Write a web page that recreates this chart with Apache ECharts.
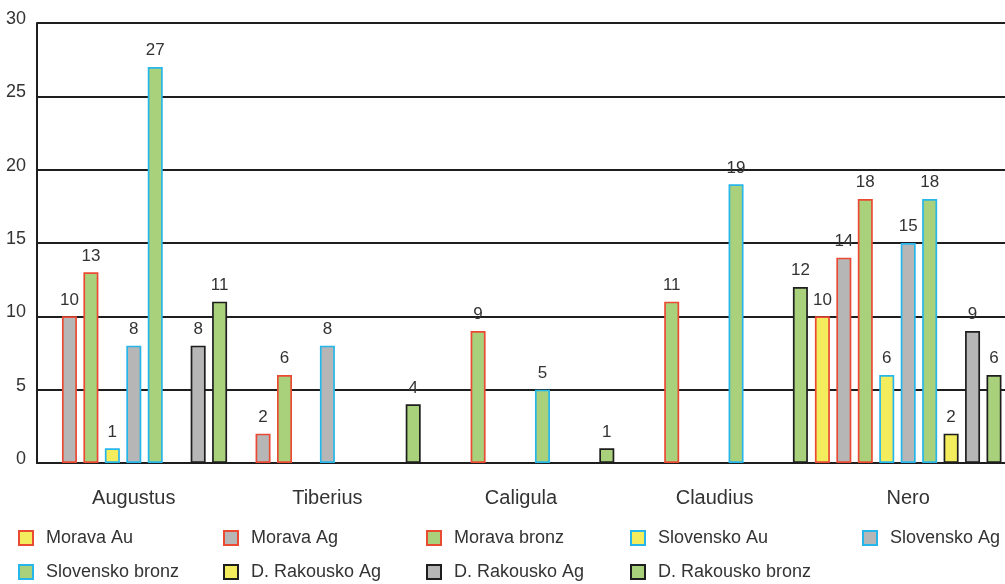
<!DOCTYPE html>
<html>
<head>
<meta charset="utf-8">
<script src="https://cdn.jsdelivr.net/npm/echarts@6/dist/echarts.min.js"></script>
<style>
html,body{margin:0;padding:0;background:#fff;}
#chart{width:1005px;height:584px;}
</style>
</head>
<body>
<div id="chart"></div>
<script>
var categories = ['Augustus', 'Tiberius', 'Caligula', 'Claudius', 'Nero'];
var seriesNames = ['Morava Au', 'Morava Ag', 'Morava bronz', 'Slovensko Au', 'Slovensko Ag', 'Slovensko bronz', 'D. Rakousko Au', 'D. Rakousko Ag', 'D. Rakousko bronz'];
var legendLabels = ['Morava Au', 'Morava Ag', 'Morava bronz', 'Slovensko Au', 'Slovensko Ag', 'Slovensko bronz', 'D. Rakousko Ag', 'D. Rakousko Ag', 'D. Rakousko bronz'];
var moravaAu = [0, 0, 0, 0, 10];
var moravaAg = [10, 2, 0, 0, 14];
var moravaBronz = [13, 6, 9, 11, 18];
var slovenskoAu = [1, 0, 0, 0, 6];
var slovenskoAg = [8, 8, 0, 0, 15];
var slovenskoBronz = [27, 0, 5, 19, 18];
var rakouskoAu = [0, 0, 0, 0, 2];
var rakouskoAg = [8, 0, 0, 0, 9];
var rakouskoBronz = [11, 4, 1, 12, 6];
var yTicks = [0, 5, 10, 15, 20, 25, 30];

var values = [moravaAu, moravaAg, moravaBronz, slovenskoAu, slovenskoAg, slovenskoBronz, rakouskoAu, rakouskoAg, rakouskoBronz];
var fills = ['#f3ec5c', '#b6b6b6', '#a9d17b', '#f3ec5c', '#b6b6b6', '#a9d17b', '#f3ec5c', '#b6b6b6', '#a9d17b'];
var borders = ['#ea4a33', '#ea4a33', '#ea4a33', '#27b6ea', '#27b6ea', '#27b6ea', '#1e1e1e', '#1e1e1e', '#1e1e1e'];
var legendPos = [[18, 529], [223, 529], [426, 529], [630, 529], [862, 529], [18, 563], [223, 563], [426, 563], [630, 563]];

var series = seriesNames.map(function (n, i) {
  return {
    name: n,
    type: 'bar',
    barWidth: 15,
    barGap: '43%',
    data: values[i].map(function (v) { return v === 0 ? '-' : v; }),
    itemStyle: { color: fills[i], borderColor: borders[i], borderWidth: 1.7 },
    label: { show: true, position: 'top', distance: 8, fontSize: 17, color: '#333', fontFamily: 'Liberation Sans, Arial, sans-serif' },
    emphasis: { disabled: true }
  };
});

var legends = seriesNames.map(function (n, i) {
  var lbl = legendLabels[i];
  return {
    data: [n],
    left: legendPos[i][0],
    top: legendPos[i][1],
    orient: 'horizontal',
    padding: 0,
    itemWidth: 14,
    itemHeight: 14,
    icon: 'rect',
    itemStyle: { borderWidth: 2 },
    formatter: function () { return lbl; },
    textStyle: { fontSize: 18, color: '#333', fontFamily: 'Liberation Sans, Arial, sans-serif', padding: [0, 0, 0, 8] },
    selectedMode: false
  };
});

var chart = echarts.init(document.getElementById('chart'), null, { renderer: 'canvas' });
chart.setOption({
  animation: false,
  backgroundColor: '#fff',
  legend: legends,
  grid: { left: 37, top: 23, bottom: 121, width: 975, containLabel: false },
  xAxis: {
    type: 'category',
    data: categories,
    axisLine: { show: true, lineStyle: { color: '#1e1e1e', width: 2 } },
    axisTick: { show: false },
    axisLabel: { fontSize: 20, color: '#333', margin: 25, fontFamily: 'Liberation Sans, Arial, sans-serif' },
    splitLine: { show: false }
  },
  yAxis: {
    type: 'value',
    min: yTicks[0],
    max: yTicks[yTicks.length - 1],
    interval: 5,
    axisLine: { show: true, lineStyle: { color: '#1e1e1e', width: 2 } },
    axisTick: { show: false },
    axisLabel: { fontSize: 18, color: '#333', margin: 11, verticalAlign: 'bottom', lineHeight: 8, fontFamily: 'Liberation Sans, Arial, sans-serif' },
    splitLine: { show: true, lineStyle: { color: '#1e1e1e', width: 2 } }
  },
  series: series
});
</script>
</body>
</html>
